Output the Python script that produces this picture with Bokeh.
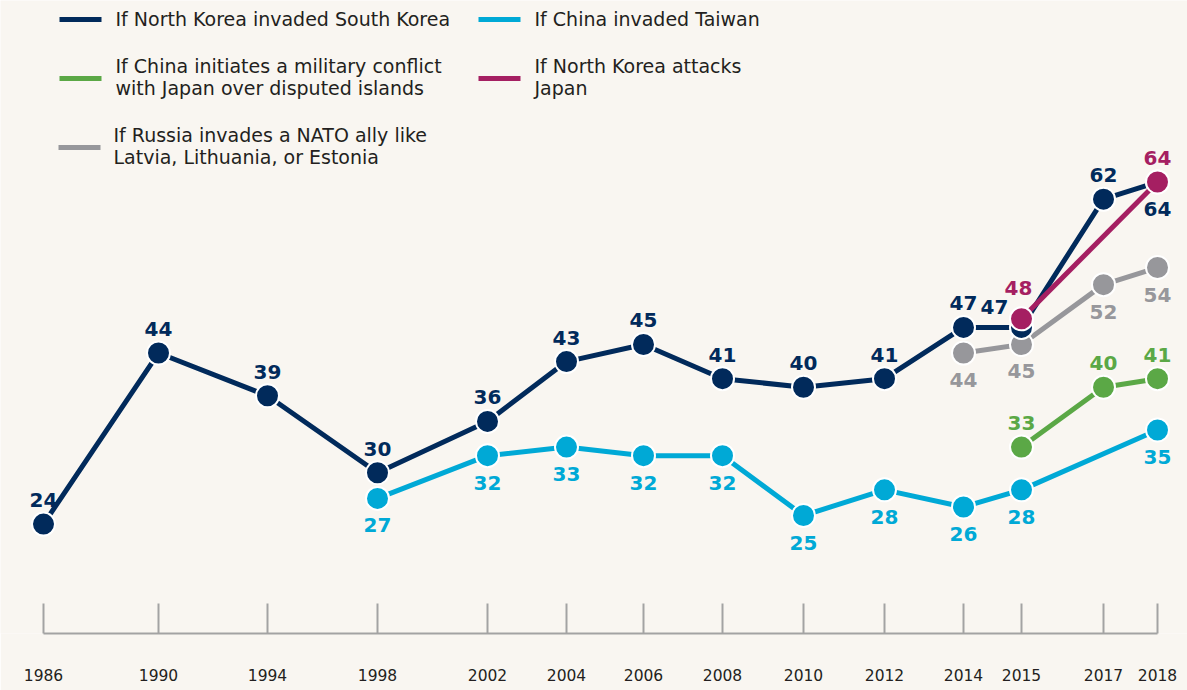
from bokeh.plotting import figure
from bokeh.models import Range1d, FixedTicker, ColumnDataSource
from bokeh.core.properties import value
from bokeh.embed import file_html
from bokeh.resources import INLINE

# ---------------- data ----------------
years = ["1986", "1990", "1994", "1998", "2002", "2004", "2006", "2008",
         "2010", "2012", "2014", "2015", "2017", "2018"]

nk_sk_years = years
nk_sk_vals = [24, 44, 39, 30, 36, 43, 45, 41, 40, 41, 47, 47, 62, 64]

tw_years = ["1998", "2002", "2004", "2006", "2008", "2010", "2012", "2014", "2015", "2018"]
tw_vals = [27, 32, 33, 32, 32, 25, 28, 26, 28, 35]

jp_isl_years = ["2015", "2017", "2018"]
jp_isl_vals = [33, 40, 41]

nato_years = ["2014", "2015", "2017", "2018"]
nato_vals = [44, 45, 52, 54]

nk_jp_years = ["2015", "2018"]
nk_jp_vals = [48, 64]

series_names = [
    "If North Korea invaded South Korea",
    "If China invaded Taiwan",
    "If China initiates a military conflict\nwith Japan over disputed islands",
    "If North Korea attacks\nJapan",
    "If Russia invades a NATO ally like\nLatvia, Lithuania, or Estonia",
]

# ---------------- layout / style ----------------
# horizontal slot of each survey year along the axis (uneven spacing as in the original)
year_slot = dict(zip(years, [0, 115, 224, 334, 444, 523, 600, 679, 760, 841, 920, 978, 1060, 1114]))

BG = "#F9F6F1"
NAVY = "#012A5B"
BLUE = "#00A9D6"
GREEN = "#5BA846"
MAGENTA = "#A51F62"
GRAY = "#97979B"
TEXT = "#231F20"
AXIS = "#A3A3A3"
FONT = "DejaVu Sans"
NUMFONT = "DejaVu Sans"

W, H = 1187, 690
X0 = 43          # pixel position of first year slot
Y_TOP, Y_BOT = 85.23, 11.2

p = figure(width=W, height=H, output_backend="svg", toolbar_location=None,
           x_range=Range1d(-X0, W - X0), y_range=Range1d(Y_BOT, Y_TOP),
           y_axis_location=None, min_border=0, min_border_bottom=57,
           background_fill_color=BG, border_fill_color=BG, outline_line_color=None)
p.grid.visible = False

ax = p.xaxis[0]
ax.ticker = FixedTicker(ticks=[year_slot[y] for y in years])
ax.major_label_overrides = {year_slot[y]: y for y in years}
ax.bounds = (year_slot[years[0]], year_slot[years[-1]])
ax.major_tick_in = 30
ax.major_tick_out = 0
ax.minor_tick_line_color = None
ax.axis_line_color = AXIS
ax.axis_line_width = 2
ax.major_tick_line_color = AXIS
ax.major_tick_line_width = 2
ax.major_label_standoff = 35
ax.major_label_text_font = FONT
ax.major_label_text_font_size = "15.5px"
ax.major_label_text_color = TEXT


def draw(yrs, vals, color, above, special=None):
    special = special or {}
    xs = [year_slot[y] for y in yrs]
    dx = [special.get(y, (0, None))[0] for y in yrs]
    dy = [special.get(y, (0, None))[1] if special.get(y, (0, None))[1] is not None
          else (-24 if above else 27) for y in yrs]
    src = ColumnDataSource(dict(x=xs, y=vals, lab=[str(v) for v in vals], dx=dx, dy=dy))
    p.line("x", "y", source=src, line_color=color, line_width=5)
    p.scatter("x", "y", source=src, size=23, fill_color=color,
              line_color="white", line_width=2)
    p.text("x", "y", text="lab", source=src, x_offset="dx", y_offset="dy",
           text_align="center", text_baseline="middle",
           text_font=value(NUMFONT), text_font_style="bold",
           text_font_size="20px", text_color=color)


draw(nato_years, nato_vals, GRAY, above=False)
draw(jp_isl_years, jp_isl_vals, GREEN, above=True)
draw(tw_years, tw_vals, BLUE, above=False)
draw(nk_sk_years, nk_sk_vals, NAVY, above=True,
     special={"2015": (-27, -20), "2018": (0, 27)})
draw(nk_jp_years, nk_jp_vals, MAGENTA, above=True,
     special={"2015": (-3, -31)})

# ---------------- legend (drawn by hand, page pixel positions) ----------------
def dx_(px):
    return px - X0


def dy_(py):
    return Y_TOP - py * (Y_TOP - Y_BOT) / (H - 57)


legend = [
    (series_names[0], NAVY, 59, 115, 19),
    (series_names[1], BLUE, 478, 534, 19),
    (series_names[2], GREEN, 59, 115, 78),
    (series_names[3], MAGENTA, 478, 534, 78),
    (series_names[4], GRAY, 58, 113, 147),
]
for name, col, sx, tx, sy in legend:
    p.segment(x0=[dx_(sx)], y0=[dy_(sy)], x1=[dx_(sx + 42)], y1=[dy_(sy)],
              line_color=col, line_width=5)
    lines = name.split("\n")
    n = len(lines)
    for i, ln in enumerate(lines):
        ty = sy + (i - (n - 1) / 2) * 22 - (1 if n == 1 else 2)
        p.text(x=[dx_(tx)], y=[dy_(ty)], text=[ln], text_align="left",
               text_baseline="middle", text_font=value(FONT),
               text_font_size="19px", text_color=TEXT)

open("out.html", "w").write(file_html(p, INLINE))
